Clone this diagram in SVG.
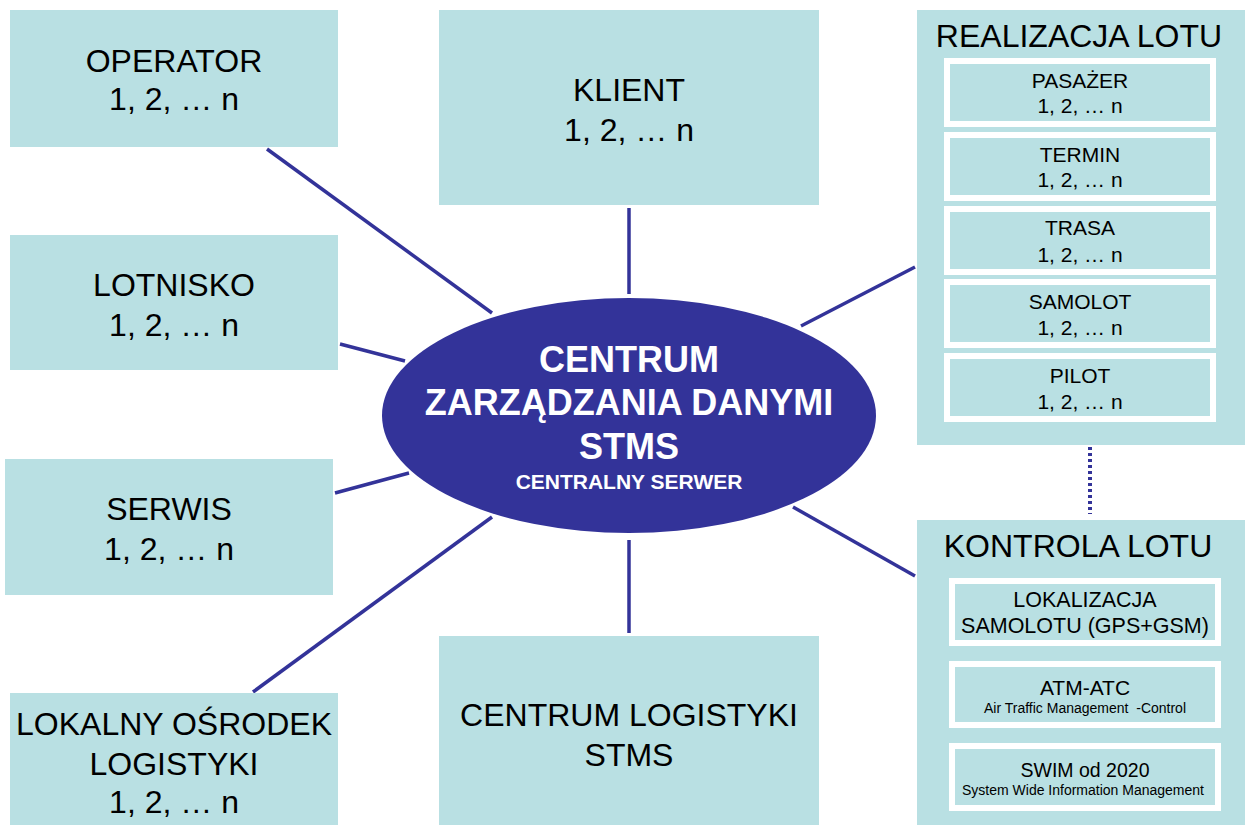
<svg xmlns="http://www.w3.org/2000/svg" width="1245" height="825" viewBox="0 0 1245 825">
<style>
.box{fill:#B9E0E3}
.sub{fill:#B9E0E3;stroke:#FFFFFF;stroke-width:6}
.t{font-family:"Liberation Sans",Arial,sans-serif;fill:#000;text-anchor:middle}
.big{font-size:32px}
.mid{font-size:21px}
.sm{font-size:14px}
.w{font-family:"Liberation Sans",Arial,sans-serif;fill:#FFF;font-weight:bold;text-anchor:middle}
.con{stroke:#333399;stroke-width:3.5;fill:none}
</style>
<rect width="1245" height="825" fill="#FFFFFF"/>
<g id="connectors">
<line class="con" x1="267" y1="149" x2="492" y2="313"/>
<line class="con" x1="629" y1="208" x2="629" y2="294"/>
<line class="con" x1="340" y1="344" x2="405" y2="361"/>
<line class="con" x1="335" y1="493" x2="409" y2="473"/>
<line class="con" x1="253" y1="692" x2="492" y2="517"/>
<line class="con" x1="629" y1="540" x2="629" y2="633"/>
<line class="con" x1="801" y1="326" x2="915" y2="267"/>
<line class="con" x1="793" y1="507" x2="915" y2="576"/>
<line x1="1090" y1="447" x2="1090" y2="514" stroke="#333399" stroke-width="4" stroke-dasharray="3 3"/>
</g>
<g id="operator">
<rect class="box" x="10" y="10" width="328" height="137"/>
<text class="t big" x="174" y="72">OPERATOR</text>
<text class="t big" x="174" y="110">1, 2, … n</text>
</g>
<g id="klient">
<rect class="box" x="439" y="10" width="380" height="195"/>
<text class="t big" x="629" y="101">KLIENT</text>
<text class="t big" x="629" y="141">1, 2, … n</text>
</g>
<g id="lotnisko">
<rect class="box" x="10" y="235" width="328" height="135"/>
<text class="t big" x="174" y="296">LOTNISKO</text>
<text class="t big" x="174" y="336">1, 2, … n</text>
</g>
<g id="serwis">
<rect class="box" x="5" y="459" width="328" height="136"/>
<text class="t big" x="169" y="520">SERWIS</text>
<text class="t big" x="169" y="560">1, 2, … n</text>
</g>
<g id="lokalny">
<rect class="box" x="10" y="693" width="328" height="132"/>
<text class="t big" x="174" y="735">LOKALNY OŚRODEK</text>
<text class="t big" x="174" y="775">LOGISTYKI</text>
<text class="t big" x="174" y="813">1, 2, … n</text>
</g>
<g id="centrum-logistyki">
<rect class="box" x="439" y="636" width="380" height="189"/>
<text class="t big" x="629" y="726">CENTRUM LOGISTYKI</text>
<text class="t big" x="629" y="766">STMS</text>
</g>
<g id="centrum">
<ellipse cx="629" cy="415.5" rx="247" ry="117.5" fill="#333399"/>
<text class="w" x="629" y="372" font-size="36">CENTRUM</text>
<text class="w" x="629" y="415" font-size="36">ZARZĄDZANIA DANYMI</text>
<text class="w" x="629" y="459" font-size="36">STMS</text>
<text class="w" x="629" y="489" font-size="21">CENTRALNY SERWER</text>
</g>
<g id="realizacja">
<rect class="box" x="917" y="10" width="328" height="435"/>
<text class="t big" x="1079" y="47">REALIZACJA LOTU</text>
<g id="pasazer">
<rect class="sub" x="947" y="61" width="266" height="63"/>
<text class="t mid" x="1080" y="88">PASAŻER</text>
<text class="t mid" x="1080" y="113">1, 2, … n</text>
</g>
<g id="termin">
<rect class="sub" x="947" y="135" width="266" height="63"/>
<text class="t mid" x="1080" y="162">TERMIN</text>
<text class="t mid" x="1080" y="187">1, 2, … n</text>
</g>
<g id="trasa">
<rect class="sub" x="947" y="209" width="266" height="63"/>
<text class="t mid" x="1080" y="235">TRASA</text>
<text class="t mid" x="1080" y="262">1, 2, … n</text>
</g>
<g id="samolot">
<rect class="sub" x="947" y="282" width="266" height="63"/>
<text class="t mid" x="1080" y="309">SAMOLOT</text>
<text class="t mid" x="1080" y="335">1, 2, … n</text>
</g>
<g id="pilot">
<rect class="sub" x="947" y="356" width="266" height="63"/>
<text class="t mid" x="1080" y="383">PILOT</text>
<text class="t mid" x="1080" y="409">1, 2, … n</text>
</g>
</g>
<g id="kontrola">
<rect class="box" x="917" y="520" width="328" height="305"/>
<text class="t big" x="1078" y="557">KONTROLA LOTU</text>
<g id="lokalizacja">
<rect class="sub" x="952" y="581" width="266" height="62"/>
<text class="t" x="1085" y="607" font-size="21.5">LOKALIZACJA</text>
<text class="t" x="1085" y="633" font-size="21.5">SAMOLOTU (GPS+GSM)</text>
</g>
<g id="atm">
<rect class="sub" x="952" y="664" width="266" height="61"/>
<text class="t mid" x="1085" y="695">ATM-ATC</text>
<text class="t sm" x="1085" y="713" xml:space="preserve">Air Traffic Management  -Control</text>
</g>
<g id="swim">
<rect class="sub" x="952" y="746" width="266" height="62"/>
<text class="t" x="1085" y="777" font-size="19.5">SWIM od 2020</text>
<text class="t sm" x="1083" y="795">System Wide Information Management</text>
</g>
</g>
</svg>
